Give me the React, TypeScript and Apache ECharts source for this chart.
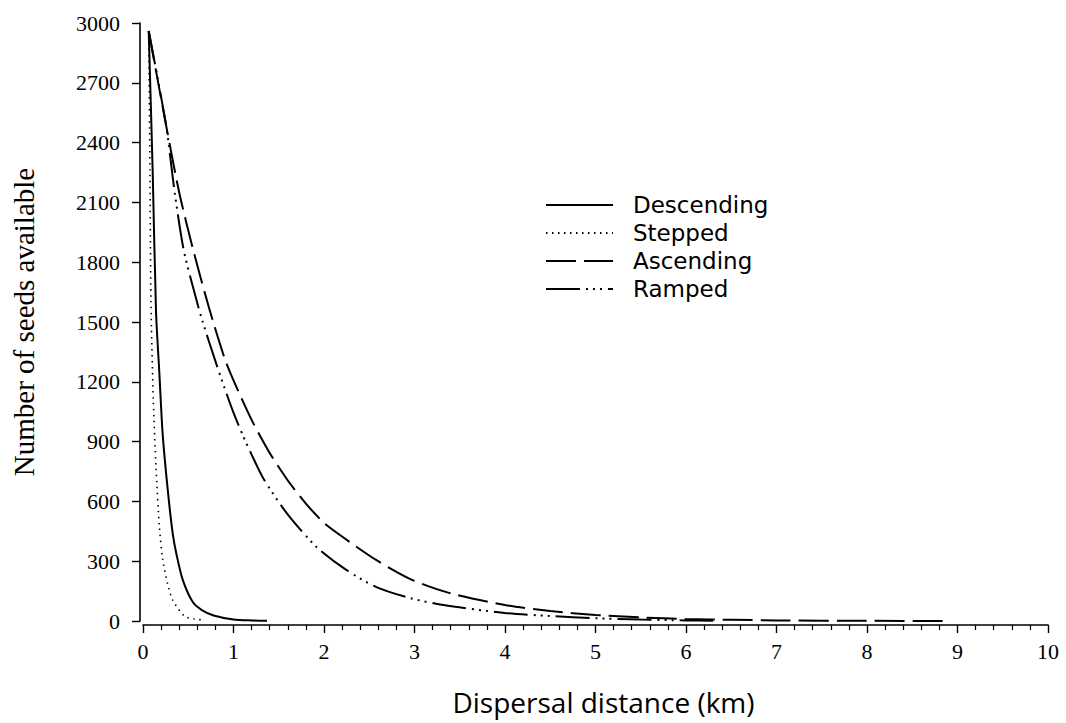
import React, { useEffect, useRef } from "react";
import * as echarts from "echarts";

const seriesNames = ["Descending", "Stepped", "Ascending", "Ramped"];

const descending: [number, number][] = [
  [0.063, 2960], [0.107, 2255], [0.144, 1550], [0.18, 1250], [0.217, 940],
  [0.273, 660], [0.328, 440], [0.372, 330], [0.44, 205], [0.55, 95],
  [0.65, 55], [0.78, 28], [1.0, 8], [1.2, 3], [1.37, 1],
];

const stepped: [number, number][] = [
  [0.063, 2960], [0.077, 2255], [0.088, 1605], [0.114, 1105], [0.144, 770],
  [0.18, 480], [0.217, 310], [0.273, 185], [0.328, 105], [0.456, 25],
  [0.567, 10], [0.67, 5],
];

const ascending: [number, number][] = [
  [0.063, 2960], [0.254, 2490], [0.4, 2150], [0.55, 1870], [0.73, 1570],
  [0.9, 1320], [1.0, 1207], [1.2, 1009], [1.4, 843], [1.6, 705],
  [1.8, 589], [2.0, 492], [2.18, 430], [2.58, 305], [2.98, 205],
  [3.39, 140], [4.0, 80], [4.5, 50], [5.0, 30], [5.5, 18], [6.0, 10],
  [6.5, 6], [7.0, 3], [8.0, 1], [8.9, 0],
];

const ramped: [number, number][] = [
  [0.063, 2960], [0.254, 2490], [0.35, 2150], [0.45, 1860], [0.585, 1620],
  [0.66, 1500], [0.81, 1290], [0.9, 1170], [1.0, 1045], [1.1, 935],
  [1.2, 835], [1.33, 715], [1.59, 540], [1.92, 370], [2.25, 255],
  [2.58, 170], [2.95, 115], [3.32, 80], [4.0, 40], [4.5, 25], [5.0, 14],
  [5.5, 7], [6.0, 3], [6.3, 1],
];

const seriesData = [descending, stepped, ascending, ramped];
const dashTypes: any[] = ["solid", [1.5, 4.5], [30, 8], [34, 6, 2, 5, 2, 5, 2, 6]];
const lineWidths = [2, 1.6, 2, 2];

export default function App() {
  const ref = useRef<HTMLDivElement>(null);
  useEffect(() => {
    const chart = echarts.init(ref.current!, null, { renderer: "svg" });
    const serif = "'Liberation Serif', 'DejaVu Serif', serif";
    const sans = "'Open Sans', 'Noto Sans', sans-serif";
    const legendFont = "'DejaVu Sans', 'Open Sans', sans-serif";
    chart.setOption({
      animation: false,
      backgroundColor: "#ffffff",
      grid: { left: 143, right: 18, top: 23, bottom: 102, containLabel: false },
      legend: {
        data: seriesNames,
        orient: "vertical",
        left: 540,
        top: 186,
        itemWidth: 67,
        itemHeight: 14,
        itemGap: 0,
        itemStyle: { opacity: 0, borderWidth: 0 },
        textStyle: {
          fontFamily: legendFont,
          fontSize: 23,
          color: "#000",
          lineHeight: 28,
          padding: [0, 0, 0, 15],
        },
      },
      xAxis: {
        type: "value",
        min: 0,
        max: 10,
        interval: 1,
        offset: 4,
        name: "Dispersal distance (km)",
        nameLocation: "middle",
        nameGap: 63,
        nameTextStyle: { fontFamily: sans, fontSize: 28, color: "#000", padding: [0, 0, 0, 16] },
        axisLine: { show: true, onZero: false, lineStyle: { color: "#000", width: 1.6 } },
        axisTick: { show: true, length: 8, lineStyle: { color: "#000", width: 1.4 } },
        minorTick: { show: true, splitNumber: 5, length: 5, lineStyle: { color: "#000", width: 1.2 } },
        axisLabel: { fontFamily: serif, fontSize: 22, color: "#000", margin: 15, formatter: (v: number) => String(v) },
        splitLine: { show: false },
      },
      yAxis: {
        type: "value",
        min: 0,
        max: 3000,
        interval: 300,
        offset: 3,
        name: "Number of seeds available",
        nameLocation: "middle",
        nameGap: 102,
        nameTextStyle: { fontFamily: serif, fontSize: 29, color: "#000" },
        axisLine: { show: true, onZero: false, lineStyle: { color: "#000", width: 1.6 } },
        axisTick: { show: true, length: 8, lineStyle: { color: "#000", width: 1.4 } },
        axisLabel: { fontFamily: serif, fontSize: 22, color: "#000", margin: 20, formatter: (v: number) => String(v) },
        splitLine: { show: false },
      },
      series: seriesNames.map((name, i) => ({
        name,
        type: "line",
        data: seriesData[i],
        showSymbol: false,
        symbol: "none",
        smooth: 0.25,
        lineStyle: { color: "#000", width: lineWidths[i], type: dashTypes[i] },
        itemStyle: { color: "#000" },
      })),
    });
    return () => chart.dispose();
  }, []);
  return (
    <div
      ref={ref}
      style={{ position: "fixed", left: 0, top: 0, width: 1066, height: 723, background: "#fff" }}
    />
  );
}
